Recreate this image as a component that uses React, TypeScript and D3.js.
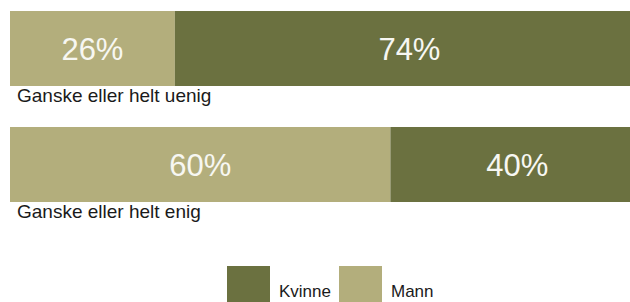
import React from 'react';
import * as d3 from 'd3';

// categories (top to bottom) and shares per series, in percent
const categories = ['Ganske eller helt uenig', 'Ganske eller helt enig'];
const mann = [26, 60];
const kvinne = [74, 40];
const seriesNames = ['Mann', 'Kvinne'];
const legendOrder = ['Kvinne', 'Mann'];

const colors = { Mann: '#b3ae7c', Kvinne: '#6b7140' };

const width = 630;
const height = 302;
const font = 'Arial, "Liberation Sans", sans-serif';

const App = () => {
  const x = d3.scaleLinear().domain([0, 100]).range([10, 644]);
  const y = d3.scaleBand().domain(categories).range([11, 202]).paddingInner(41 / 116).paddingOuter(0);

  const rows = categories.map((c, i) => ({ cat: c, Mann: mann[i], Kvinne: kvinne[i] }));
  const stacked = d3.stack().keys(seriesNames)(rows);

  return (
    <svg width={width} height={height} style={{ display: 'block', position: 'absolute', left: 0, top: 0 }}>
      <rect width={width} height={height} fill="#ffffff" />
      {stacked.map(s => (
        <g key={s.key}>
          {s.map((d, i) => {
            const x0 = x(d[0]);
            const x1 = x(d[1]);
            const yy = y(categories[i]);
            return (
              <React.Fragment key={i}>
                <rect x={x0} y={yy} width={x1 - x0} height={y.bandwidth()} fill={colors[s.key]} />
                <text
                  x={(x0 + x1) / 2}
                  y={yy + y.bandwidth() / 2 + 11}
                  textAnchor="middle"
                  fontFamily={font}
                  fontSize={31}
                  fill="#f7f7f2"
                >
                  {`${d[1] - d[0]}%`}
                </text>
              </React.Fragment>
            );
          })}
        </g>
      ))}
      {categories.map(c => (
        <text key={c} x={17} y={y(c) + y.bandwidth() + 16} fontFamily={font} fontSize={19} fill="#1a1a1a">
          {c}
        </text>
      ))}
      <g>
        {legendOrder.map((k, i) => {
          const lx = 227 + i * 112;
          return (
            <g key={k}>
              <rect x={lx} y={266} width={43} height={43} fill={colors[k]} />
              <text x={lx + 52} y={297} fontFamily={font} fontSize={17} fill="#1a1a1a">{k}</text>
            </g>
          );
        })}
      </g>
    </svg>
  );
};

export default App;
